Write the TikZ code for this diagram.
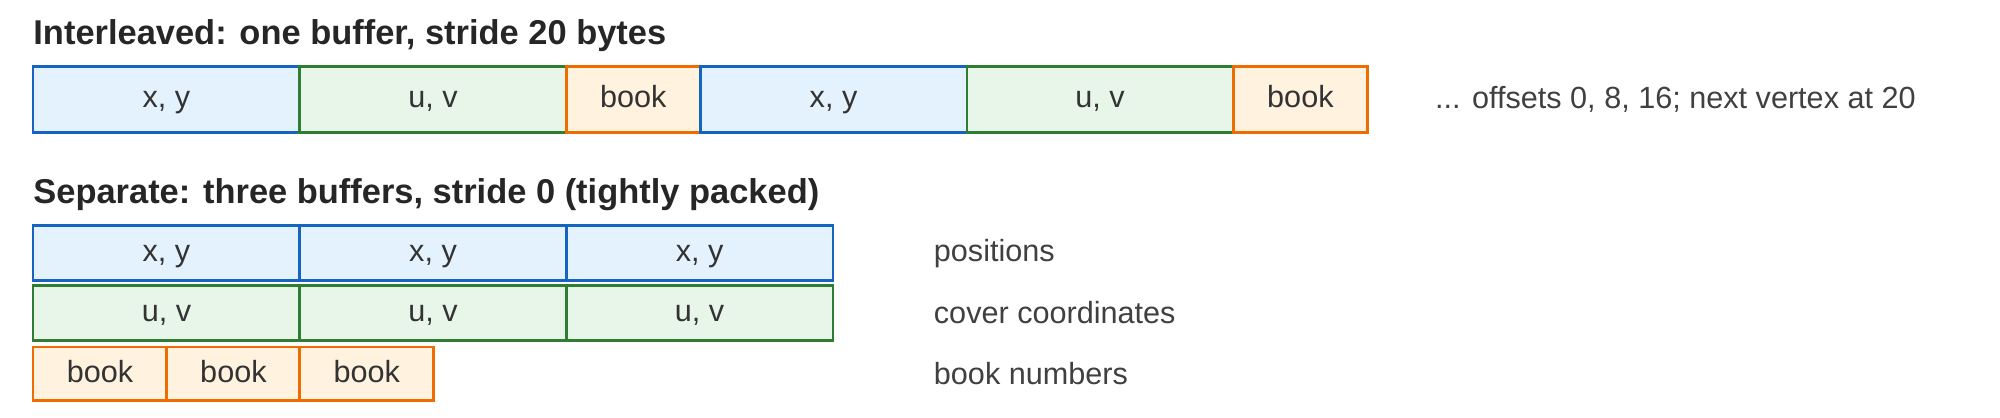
\documentclass[tikz,border=0pt]{standalone}
\usepackage{fontspec}
\setmainfont{Liberation Sans}
\begin{document}
\begin{tikzpicture}[x=1pt,y=-1pt,
  cell/.style={draw,line width=2pt,minimum height=#1,inner sep=0pt,text height=18pt,text depth=5pt,font=\fontsize{24}{28}\selectfont,text=black!80},
  xy/.style={cell=#1,draw={rgb,255:red,21;green,101;blue,192},fill={rgb,255:red,227;green,242;blue,253}},
  uv/.style={cell=#1,draw={rgb,255:red,46;green,125;blue,50},fill={rgb,255:red,232;green,245;blue,233}},
  bk/.style={cell=#1,draw={rgb,255:red,239;green,108;blue,0},fill={rgb,255:red,255;green,243;blue,224}},
  ttl/.style={anchor=west,inner sep=0pt,font=\bfseries\fontsize{27}{32}\selectfont,text=black!85},
  lbl/.style={anchor=west,inner sep=0pt,font=\fontsize{24}{28}\selectfont,text=black!75}]
\useasboundingbox (0,0) rectangle (1568,327);
\node[ttl] (t1) at (26,28) {Interleaved: one buffer, stride 20 bytes};
\node[xy=52pt,minimum width=209pt] (a1) at (130.5,78) {x, y};
\node[uv=52pt,minimum width=209pt] (a2) at (339.5,78) {u, v};
\node[bk=52pt,minimum width=105pt] (a3) at (496.5,78) {book};
\node[xy=52pt,minimum width=209pt] (a4) at (653.5,78) {x, y};
\node[uv=52pt,minimum width=209pt] (a5) at (862.5,78) {u, v};
\node[bk=52pt,minimum width=105pt] (a6) at (1019.5,78) {book};
\node[lbl] (l0) at (1125,78) {... offsets 0, 8, 16; next vertex at 20};
\node[ttl] (t2) at (26,153) {Separate: three buffers, stride 0 (tightly packed)};
\foreach \i/\x in {1/130.5,2/339.5,3/548.5}{
  \node[xy=43pt,minimum width=209pt] (p\i) at (\x,198.5) {x, y};
  \node[uv=43pt,minimum width=209pt] (c\i) at (\x,245.5) {u, v};}
\foreach \i/\x in {1/78.5,2/183,3/287.5}{
  \node[bk=42pt,minimum width=105pt] (b\i) at (\x,293) {book};}
\node[lbl] (l1) at (732,199) {positions};
\node[lbl] (l2) at (732,245) {cover coordinates};
\node[lbl] (l3) at (732,293) {book numbers};
\end{tikzpicture}
\end{document}
